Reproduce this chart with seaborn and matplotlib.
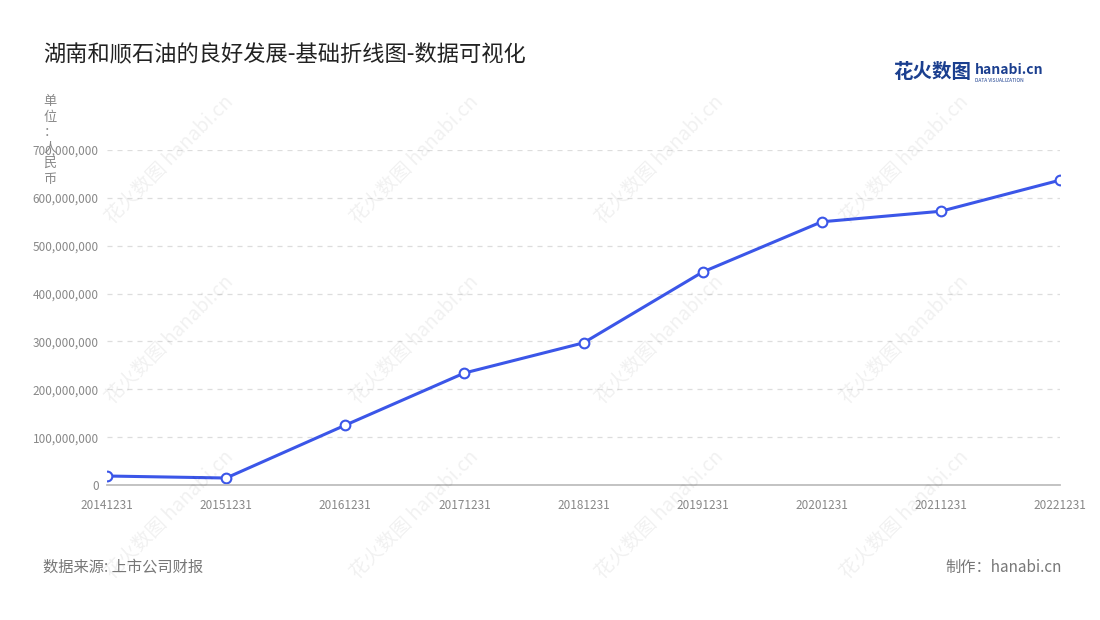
import seaborn as sns
import pandas as pd
import matplotlib.pyplot as plt
from matplotlib.ticker import FuncFormatter

years = ["20141231", "20151231", "20161231", "20171231", "20181231",
         "20191231", "20201231", "20211231", "20221231"]
revenue = [18800000, 14600000, 125000000, 234000000, 297000000,
           445000000, 550000000, 572000000, 637000000]

sns.set_theme(style="white")
plt.rcParams["font.family"] = ["Noto Sans CJK SC", "DejaVu Sans"]

df = pd.DataFrame({"date": years, "value": revenue})
df["x"] = range(len(df))

fig = plt.figure(figsize=(11, 6.2), dpi=100)
ax = fig.add_axes([107 / 1100, 1 - 485 / 620, (1060 - 107) / 1100, (485 - 150) / 620])

sns.lineplot(data=df, x="x", y="value", ax=ax, color="#3b56e8", linewidth=2.2,
             marker="o", markersize=7, markerfacecolor="white",
             markeredgecolor="#3b56e8", markeredgewidth=1.5)

ax.set_xlim(0, len(years) - 1)
ax.set_ylim(0, 700000000)
ax.set_yticks(range(0, 700000001, 100000000))
ax.yaxis.set_major_formatter(FuncFormatter(lambda v, p: f"{int(v):,}"))
ax.set_xticks(df["x"])
ax.set_xticklabels(years)
ax.tick_params(axis="both", labelsize=8.5, colors="#888888", length=0, pad=6)
ax.tick_params(axis="x", length=4, color="#bbbbbb", direction="out")
ax.set_xlabel("")
ax.set_ylabel("")
for s in ["top", "right", "left"]:
    ax.spines[s].set_visible(False)
ax.spines["bottom"].set_color("#bbbbbb")
ax.yaxis.grid(True, linestyle=(0, (4, 4)), color="#dddddd", linewidth=0.9)
ax.set_axisbelow(True)

# watermarks
for wx in [170, 415, 660, 905]:
    for wy in [160, 340, 515]:
        fig.text(wx / 1100, 1 - wy / 620, "花火数图 hanabi.cn", rotation=45,
                 fontsize=14, color="#000000", alpha=0.06, ha="center", va="center")

fig.text(43 / 1100, 1 - 55 / 620, "湖南和顺石油的良好发展-基础折线图-数据可视化",
         fontsize=16, color="#222222", va="center")
fig.text(50 / 1100, 1 - 95 / 620, "单\n位\n：\n人\n民\n币", fontsize=9.5,
         color="#888888", va="top", ha="center", linespacing=1.25)
fig.text(893 / 1100, 1 - 73 / 620, "花火数图", fontsize=14, color="#1b3f8f",
         fontweight="bold", va="center")
fig.text(975 / 1100, 1 - 70 / 620, "hanabi.cn", fontsize=10, color="#1b3f8f",
         fontweight="bold", va="center")
fig.text(975 / 1100, 1 - 81 / 620, "DATA VISUALIZATION", fontsize=3.5, color="#1b3f8f",
         va="center")
fig.text(43 / 1100, 1 - 567 / 620, "数据来源: 上市公司财报", fontsize=11,
         color="#777777", va="center")
fig.text(1062 / 1100, 1 - 567 / 620, "制作：hanabi.cn", fontsize=11,
         color="#777777", va="center", ha="right")

fig.savefig("out.png", dpi=100, facecolor="white")
